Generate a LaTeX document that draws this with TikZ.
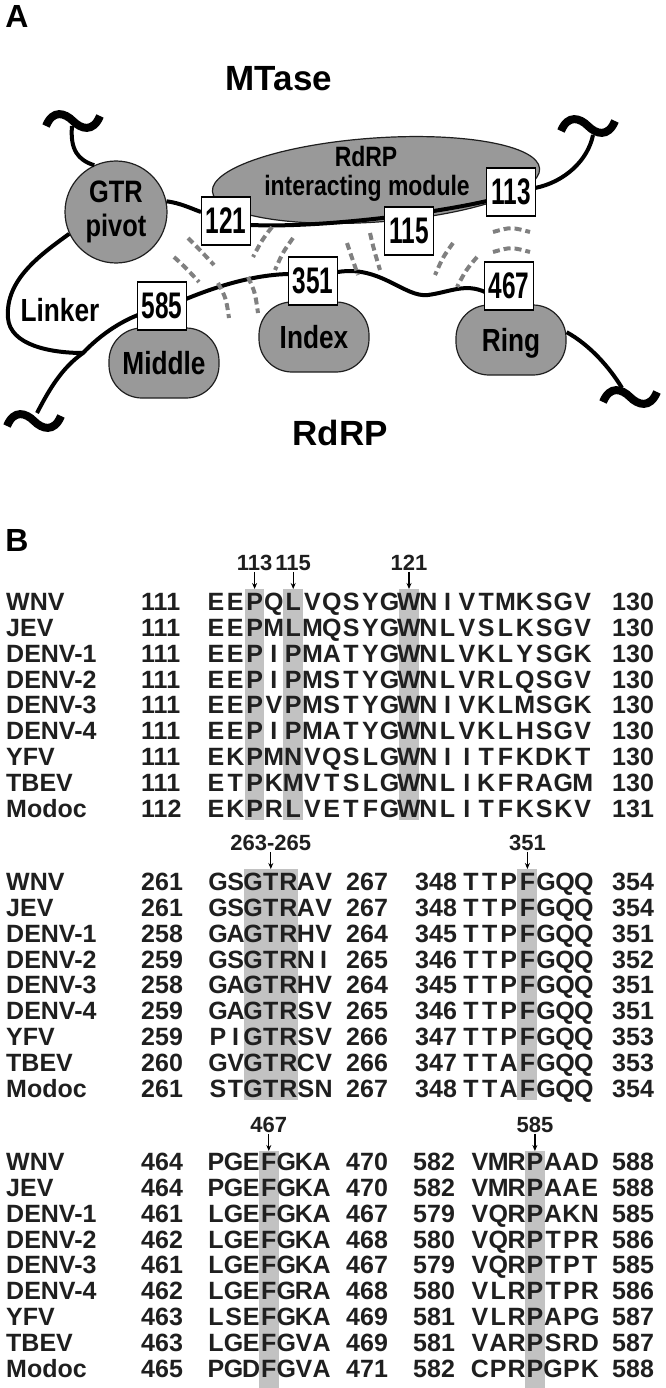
\documentclass[tikz,border=0pt]{standalone}
\usepackage{fontspec}
\setmainfont{Liberation Sans}
\newfontfamily\narrowfont[FakeStretch=0.82]{Liberation Sans}
\newfontfamily\tallfont[FakeStretch=0.66]{Liberation Sans}
\usetikzlibrary{shapes.geometric,arrows.meta}

\definecolor{blobgray}{gray}{0.6}
\definecolor{shadegray}{gray}{0.76}
\definecolor{dashgray}{gray}{0.5}
\definecolor{inkgray}{gray}{0.12}

\newcommand\fs[1]{\fontsize{#1}{#1}\selectfont}

% one residue per column
\newcount\rescount
\makeatletter
\newcommand\putseq[5]{%
  \global\rescount=0
  \edef\seqtmp{#5}%
  \def\seqloop{\@tfor\res:=}%
  \expandafter\seqloop\seqtmp\do{%
    \node[res] (#1-\the\rescount) at ({#2+#3*\the\rescount},#4) {\res};
    \global\advance\rescount by 1}}
\makeatother

\tikzset{
  blob/.style={fill=blobgray, draw=inkgray, line width=1.2},
  pod/.style={blob, rounded corners=33, minimum width=110, minimum height=70,
    inner sep=0, text depth=0pt, font=\narrowfont\bfseries\fs{32}},
  numbox/.style={draw=black, fill=white, line width=1.5, minimum width=49,
    minimum height=48, inner sep=0, text depth=0pt, font=\tallfont\bfseries\fs{37}},
  chain/.style={line width=4, black},
  contact/.style={dashgray, line width=4, dash pattern=on 7pt off 4pt},
  title/.style={inner sep=0, text depth=0pt, font=\bfseries\fs{35}},
  panel/.style={inner sep=0, text depth=0pt, font=\bfseries\fs{32}},
  virus/.style={anchor=west, inner sep=0, text depth=0pt, font=\bfseries\fs{25}, text=inkgray},
  numl/.style={anchor=west, inner sep=0, text depth=0pt, font=\bfseries\fs{25}, text=inkgray},
  res/.style={inner sep=0, text depth=0pt, font=\bfseries\fs{25}, text=inkgray},
  tag/.style={inner sep=1, text depth=0pt, font=\bfseries\fs{22}, text=inkgray},
  pointer/.style={-{Stealth[length=6pt,width=5pt]}, line width=1.2},
  shade/.style={fill=shadegray},
  wave/.pic={\draw[line width=8] (-27,5) .. controls (-20,-12) and (-8,-8) .. (0,0)
    .. controls (8,8) and (20,12) .. (27,-5);}
}

\begin{document}
\begin{tikzpicture}[x=1pt,y=-1pt]
\useasboundingbox (0,0) rectangle (665,1388);

%% ---------- A ----------
\node[panel] (pa) at (17,16) {A};
\node[title] (mtase) at (279,78) {MTase};
\node[title] (rdrp) at (340,433) {RdRP};

\node[ellipse, blob, minimum width=328, minimum height=84, rotate=4] (rim) at (376,180) {};
\node[anchor=base, inner sep=0, font=\narrowfont\bfseries\fs{28}] (rimtop) at (366,167) {RdRP};
\node[anchor=base, inner sep=0, font=\narrowfont\bfseries\fs{28}] (rimbot) at (367,196) {interacting module};

\node[blob, circle, minimum size=102, inner sep=0, align=center,
  font=\narrowfont\bfseries\fontsize{31}{34}\selectfont] (gtr) at (116,212) {GTR\\pivot};

\node[pod] (middle) at (164,363) {Middle};
\node[pod] (index) at (314,337) {Index};
\node[pod] (ring) at (511,340) {Ring};
\node[inner sep=0, text depth=0pt, font=\narrowfont\bfseries\fs{32}] (linker) at (60,310) {Linker};

\coordinate (tl) at (72,126);
\coordinate (tr) at (593,135);
\coordinate (bl) at (37,413);
\coordinate (br) at (622,388);
\coordinate (join) at (83,353);
\pic at (73,121) {wave};
\pic at (588,126) {wave};
\pic at (34,421) {wave};
\pic at (630,397) {wave};

% MTase chain
\draw[chain] (tl) .. controls (70,150) and (78,160) .. (gtr.115);
\draw[chain] (gtr.12) .. controls (180,203) and (190,208) .. (226-25,212);
\draw[chain] (226+25,225) .. controls (320,228) and (430,214) .. (487,201);
\draw[chain] (535,188) .. controls (565,182) and (588,160) .. (tr);

% RdRP chain
\draw[chain] (gtr.205) .. controls (40,255) and (5,280) .. (8,318)
  .. controls (10,345) and (50,353) .. (join);
\draw[chain] (bl) .. controls (50,388) and (62,368) .. (join)
  .. controls (100,335) and (120,322) .. (138,315);
\draw[chain] (186,299) .. controls (220,285) and (255,275) .. (288,274);
\draw[chain] (338,272) .. controls (380,265) and (405,298) .. (428,295)
  .. controls (450,292) and (465,283) .. (485,292);
\draw[chain] (ring.8) .. controls (590,345) and (610,368) .. (br);

% contacts
\draw[contact] (188,238) .. controls (200,250) .. (214,265);
\draw[contact] (174,257) .. controls (186,268) .. (199,282);
\draw[contact] (218,283) .. controls (226,298) .. (229,318);
\draw[contact] (248,277) .. controls (255,292) .. (258,313);
\draw[contact] (272,227) .. controls (262,240) .. (253,257);
\draw[contact] (293,238) .. controls (283,252) .. (275,270);
\draw[contact] (347,243) .. controls (352,258) .. (358,275);
\draw[contact] (370,233) .. controls (374,250) .. (380,270);
\draw[contact] (453,243) .. controls (443,257) .. (435,275);
\draw[contact] (477,257) .. controls (466,270) .. (457,287);
\draw[contact] (493,232) .. controls (511,227) .. (530,232);
\draw[contact] (493,252) .. controls (511,247) .. (530,252);

\node[numbox] (b121) at (226,221) {121};
\node[numbox] (b113) at (511,192) {113};
\node[numbox] (b115) at (409,231) {115};
\node[numbox] (b351) at (313,281) {351};
\node[numbox] (b467) at (509,286) {467};
\node[numbox] (b585) at (162,306) {585};

%% ---------- B ----------
\node[panel] (pb) at (17,540) {B};

% block 1
\foreach \c in {2,4,10}
  \fill[shade] ({216+19.3*\c-9.8},589) rectangle ({216+19.3*\c+9.8},820);
\node[tag] (t113) at (254.6,563) {113};
\node[tag] (t115) at (293.2,563) {115};
\node[tag] (t121) at (409,563) {121};
\coordinate (p113) at (254.6,589);
\coordinate (p115) at (293.2,589);
\coordinate (p121) at (409,589);
\draw[pointer] (t113) -- (p113);
\draw[pointer] (t115) -- (p115);
\draw[pointer] (t121) -- (p121);

\foreach \nm/\st/\sq/\en [count=\r from 0] in {
  WNV/111/EEPQLVQSYGWNIVTMKSGV/130,
  JEV/111/EEPMLMQSYGWNLVSLKSGV/130,
  DENV-1/111/EEPIPMATYGWNLVKLYSGK/130,
  DENV-2/111/EEPIPMSTYGWNLVRLQSGV/130,
  DENV-3/111/EEPVPMSTYGWNIVKLMSGK/130,
  DENV-4/111/EEPIPMATYGWNLVKLHSGV/130,
  YFV/111/EKPMNVQSLGWNIITFKDKT/130,
  TBEV/111/ETPKMVTSLGWNLIKFRAGM/130,
  Modoc/112/EKPRLVETFGWNLITFKSKV/131}{
  \pgfmathsetmacro\yy{602+25.8*\r}
  \node[virus] (na\r) at (6,\yy) {\nm};
  \node[numl] (sa\r) at (141,\yy) {\st};
  \putseq{qa\r}{216}{19.3}{\yy}{\sq}
  \node[numl] (ea\r) at (612,\yy) {\en};
}

% block 2
\fill[shade] (244,869) rectangle (297.5,1100);
\fill[shade] (517.4,869) rectangle (537.4,1100);
\node[tag] (t263) at (270.8,843) {263-265};
\node[tag] (t351) at (527.4,843) {351};
\coordinate (p263) at (270.8,869);
\coordinate (p351) at (527.4,869);
\draw[pointer] (t263) -- (p263);
\draw[pointer] (t351) -- (p351);

\foreach \nm/\sa/\qa/\ea/\sb/\qb/\eb [count=\r from 0] in {
  WNV/261/GSGTRAV/267/348/TTPFGQQ/354,
  JEV/261/GSGTRAV/267/348/TTPFGQQ/354,
  DENV-1/258/GAGTRHV/264/345/TTPFGQQ/351,
  DENV-2/259/GSGTRNI/265/346/TTPFGQQ/352,
  DENV-3/258/GAGTRHV/264/345/TTPFGQQ/351,
  DENV-4/259/GAGTRSV/265/346/TTPFGQQ/351,
  YFV/259/PIGTRSV/266/347/TTPFGQQ/353,
  TBEV/260/GVGTRCV/266/347/TTAFGQQ/353,
  Modoc/261/STGTRSN/267/348/TTAFGQQ/354}{
  \pgfmathsetmacro\yy{882+25.8*\r}
  \node[virus] (nb\r) at (6,\yy) {\nm};
  \node[numl] (sb\r) at (141,\yy) {\sa};
  \putseq{qb\r}{218}{17.6}{\yy}{\qa}
  \node[numl] (eb\r) at (346,\yy) {\ea};
  \node[numl] (sc\r) at (415,\yy) {\sb};
  \putseq{qc\r}{471}{18.8}{\yy}{\qb}
  \node[numl] (ec\r) at (612,\yy) {\eb};
}

% block 3
\fill[shade] (258.8,1151) rectangle (278.8,1388);
\fill[shade] (524.9,1151) rectangle (544.9,1388);
\node[tag] (t467) at (268.8,1125) {467};
\node[tag] (t585) at (534.9,1125) {585};
\coordinate (p467) at (268.8,1151);
\coordinate (p585) at (534.9,1151);
\draw[pointer] (t467) -- (p467);
\draw[pointer] (t585) -- (p585);

\foreach \nm/\sa/\qa/\ea/\sb/\qb/\eb [count=\r from 0] in {
  WNV/464/PGEFGKA/470/582/VMRPAAD/588,
  JEV/464/PGEFGKA/470/582/VMRPAAE/588,
  DENV-1/461/LGEFGKA/467/579/VQRPAKN/585,
  DENV-2/462/LGEFGKA/468/580/VQRPTPR/586,
  DENV-3/461/LGEFGKA/467/579/VQRPTPT/585,
  DENV-4/462/LGEFGRA/468/580/VLRPTPR/586,
  YFV/463/LSEFGKA/469/581/VLRPAPG/587,
  TBEV/463/LGEFGVA/469/581/VARPSRD/587,
  Modoc/465/PGDFGVA/471/582/CPRPGPK/588}{
  \pgfmathsetmacro\yy{1162+25.8*\r}
  \node[virus] (nc\r) at (6,\yy) {\nm};
  \node[numl] (sd\r) at (141,\yy) {\sa};
  \putseq{qd\r}{216}{17.6}{\yy}{\qa}
  \node[numl] (ed\r) at (346,\yy) {\ea};
  \node[numl] (se\r) at (413,\yy) {\sb};
  \putseq{qe\r}{480}{18.3}{\yy}{\qb}
  \node[numl] (ee\r) at (612,\yy) {\eb};
}
\end{tikzpicture}
\end{document}
